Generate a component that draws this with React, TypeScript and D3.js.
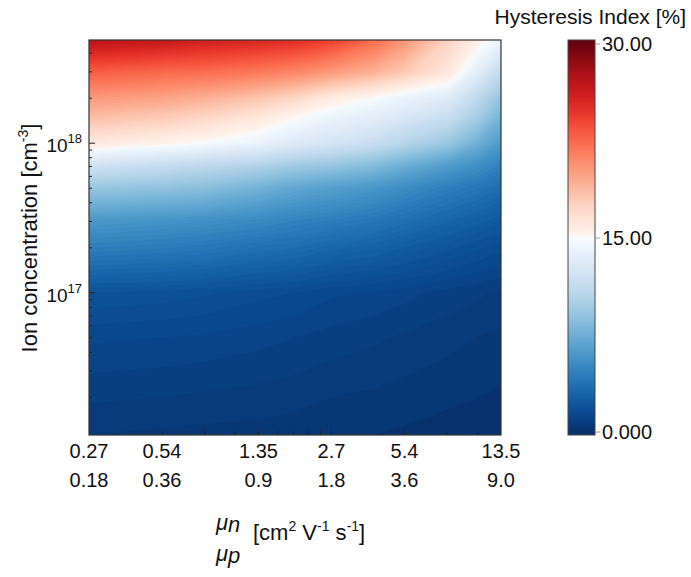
import React, { useMemo } from 'react';
import * as d3 from 'd3';

// electron mobility grid (cm2 V-1 s-1), columns of the map
const muN = [0.27, 0.54, 0.81, 1.35, 1.89, 2.7, 4.05, 5.4, 8.1, 10.8, 13.5];
// ion concentration grid (cm-3), rows of the map, low to high
const ionConc = [1.12e16, 2e16, 5e16, 1e17, 2e17, 3e17, 5e17, 7e17, 1e18, 1.5e18, 2e18, 3e18, 4.9e18];

// hysteresis index [%], one array per ion concentration row
const hi_1p1e16 = [0.5, 0.45, 0.42, 0.4, 0.35, 0.3, 0.25, 0.2, 0.15, 0.12, 0.1];
const hi_2e16 = [0.8, 0.75, 0.7, 0.65, 0.6, 0.5, 0.45, 0.4, 0.3, 0.25, 0.2];
const hi_5e16 = [1.3, 1.25, 1.2, 1.1, 1.0, 0.9, 0.8, 0.7, 0.6, 0.5, 0.45];
const hi_1e17 = [2.0, 1.9, 1.8, 1.6, 1.5, 1.3, 1.2, 1.1, 0.9, 0.8, 0.7];
const hi_2e17 = [4.5, 4.3, 4.1, 3.7, 3.5, 3.1, 2.8, 2.5, 2.1, 1.8, 1.6];
const hi_3e17 = [6.0, 5.7, 5.5, 5.1, 4.7, 4.4, 4.0, 3.6, 3.0, 2.6, 2.3];
const hi_5e17 = [9.2, 8.9, 8.6, 7.7, 7.0, 6.5, 5.9, 5.3, 4.5, 4.0, 3.5];
const hi_7e17 = [12.0, 11.3, 10.8, 10.2, 9.4, 9.0, 8.3, 7.4, 6.2, 5.4, 4.6];
const hi_1e18 = [16.0, 15.3, 14.8, 14.0, 13.0, 12.4, 11.5, 10.5, 9.3, 7.6, 6.2];
const hi_1p5e18 = [18.6, 18.0, 17.3, 16.2, 15.1, 14.2, 13.5, 12.7, 11.6, 9.8, 7.8];
const hi_2e18 = [20.3, 19.8, 19.2, 18.2, 17.2, 15.8, 14.8, 14.0, 13.2, 11.0, 9.0];
const hi_3e18 = [23.0, 22.5, 22.3, 21.8, 21.2, 20.3, 19.2, 18.0, 16.2, 13.5, 11.2];
const hi_4p9e18 = [27.0, 26.5, 26.0, 25.5, 25.2, 24.2, 22.3, 20.5, 17.5, 15.5, 14.2];

const hysteresis = [hi_1p1e16, hi_2e16, hi_5e16, hi_1e17, hi_2e17, hi_3e17, hi_5e17,
  hi_7e17, hi_1e18, hi_1p5e18, hi_2e18, hi_3e18, hi_4p9e18];

// x tick labels (electron / hole mobility)
const labelMuN = [0.27, 0.54, 1.35, 2.7, 5.4, 13.5];
const muNLabels = ['0.27', '0.54', '1.35', '2.7', '5.4', '13.5'];
const muPLabels = ['0.18', '0.36', '0.9', '1.8', '3.6', '9.0'];

const cbarTicks = [0, 15, 30];
const cbarLabels = ['0.000', '15.00', '30.00'];

const FONT = 'Liberation Sans, Arial, Helvetica, sans-serif';

const color = (v: number) => v <= 15 ? d3.interpolateBlues(1 - v / 15) : d3.interpolateReds((v - 15) / 15);

export default function App() {
  const margin = { left: 89, right: 501, top: 40, bottom: 435 };
  const x = d3.scaleLog().domain([0.27, 13.5]).range([margin.left, margin.right]);
  const y = d3.scaleLog().domain([1.12e16, 4.9e18]).range([margin.bottom, margin.top]);
  const xRel = d3.scaleLog().domain([1, 50]).range([margin.left, margin.right]);
  // colour bar ticks sit a few px inside the bar ends
  const cb = d3.scaleLinear().domain([0, 30]).range([432, 44]);

  const bands = useMemo(() => {
    const nx = muN.length, ny = ionConc.length;
    const flat: number[] = [];
    hysteresis.forEach(row => row.forEach(v => flat.push(v)));
    const step = 0.25;
    const thresholds = d3.range(0, 30, step);
    const contours = d3.contours().size([nx, ny]).thresholds(thresholds)(flat);
    const gx = d3.scaleLinear().domain(d3.range(nx)).range(muN.map(m => x(m))).clamp(true);
    const gy = d3.scaleLinear().domain(d3.range(ny)).range(ionConc.map(c => y(c))).clamp(true);
    const proj = d3.geoTransform({
      point(px: number, py: number) {
        // @ts-ignore
        this.stream.point(gx(px - 0.5), gy(py - 0.5));
      }
    });
    const path = d3.geoPath(proj);
    return contours.map(c => ({ d: path(c as any) || '', fill: color(c.value + step / 2) }));
  }, []);

  const yTicks = y.ticks();
  const xTicks = xRel.ticks();
  const isMajor = (t: number) => Math.abs(Math.log10(t) - Math.round(Math.log10(t))) < 1e-9;

  const barTop = margin.top, barBottom = margin.bottom;
  const gradStops = d3.range(0, 30.01, 0.5);
  const gradOffset = (v: number) => (barBottom - cb(v)) / (barBottom - barTop);

  return (
    <svg width={691} height={577} style={{ position: 'absolute', left: 0, top: 0, background: '#fff' }}
      fontFamily={FONT}>
      <defs>
        <clipPath id="plotClip">
          <rect x={margin.left} y={margin.top} width={margin.right - margin.left} height={margin.bottom - margin.top} />
        </clipPath>
        <linearGradient id="cbarGrad" x1="0" y1="1" x2="0" y2="0">
          {gradStops.map(v => (
            <stop key={v} offset={gradOffset(v)} stopColor={color(v)} />
          ))}
        </linearGradient>
      </defs>

      {/* contour map */}
      <g clipPath="url(#plotClip)">
        {bands.map((b, i) => <path key={i} d={b.d} fill={b.fill} stroke={b.fill} strokeWidth={0.3} />)}
      </g>

      {/* ticks, pointing inside */}
      <g stroke="#222" strokeWidth={1}>
        {yTicks.map((t, i) => (
          <line key={'y' + i} x1={margin.left} x2={margin.left + (isMajor(t) ? 6 : 3)} y1={y(t)} y2={y(t)} />
        ))}
        {xTicks.filter(t => t > 1 && t < 50).map((t, i) => (
          <line key={'x' + i} x1={xRel(t)} x2={xRel(t)} y1={margin.bottom} y2={margin.bottom - (isMajor(t) ? 6 : 4)} />
        ))}
      </g>
      <rect x={margin.left} y={margin.top} width={margin.right - margin.left} height={margin.bottom - margin.top}
        fill="none" stroke="#333" strokeWidth={1.2} />

      {/* y tick labels */}
      {yTicks.filter(isMajor).map(t => (
        <text key={t} x={82} y={y(t) + 9} textAnchor="end" fontSize={19} fill="#111">
          <tspan>10</tspan>
          <tspan dy={-9} fontSize={13}>{Math.round(Math.log10(t))}</tspan>
        </text>
      ))}
      <text transform={`translate(37,238) rotate(-90)`} textAnchor="middle" fontSize={22} fill="#111">
        <tspan>Ion concentration [cm</tspan>
        <tspan dy={-9} fontSize={14}>-3</tspan>
        <tspan dy={9}>]</tspan>
      </text>

      {/* x tick labels: two rows */}
      {labelMuN.map((m, i) => (
        <g key={m}>
          <text x={x(m)} y={458} textAnchor="middle" fontSize={20} fill="#111">{muNLabels[i]}</text>
          <text x={x(m)} y={487} textAnchor="middle" fontSize={20} fill="#111">{muPLabels[i]}</text>
        </g>
      ))}
      <text x={216} y={530} fontSize={22} fontStyle="italic" fill="#111">μ<tspan dy={2}>n</tspan></text>
      <text x={216} y={561} fontSize={22} fontStyle="italic" fill="#111">μ<tspan dy={2}>p</tspan></text>
      <text x={253} y={540} fontSize={22} fill="#111">
        <tspan>[cm</tspan>
        <tspan dy={-9} fontSize={14}>2</tspan>
        <tspan dy={9}> V</tspan>
        <tspan dy={-9} fontSize={14}>-1</tspan>
        <tspan dy={9}> s</tspan>
        <tspan dy={-9} fontSize={14}>-1</tspan>
        <tspan dy={9}>]</tspan>
      </text>

      {/* colour bar */}
      <rect x={568} y={barTop} width={27} height={barBottom - barTop} fill="url(#cbarGrad)"
        stroke="#444" strokeWidth={1} />
      {cbarTicks.map((t, i) => (
        <g key={t}>
          <line x1={595} x2={600} y1={cb(t)} y2={cb(t)} stroke="#999" strokeWidth={1} />
          <text x={602} y={cb(t) + 7} fontSize={20} fill="#111">{cbarLabels[i]}</text>
        </g>
      ))}
      <text x={686} y={24} textAnchor="end" fontSize={21} fill="#111">Hysteresis Index [%]</text>
    </svg>
  );
}
